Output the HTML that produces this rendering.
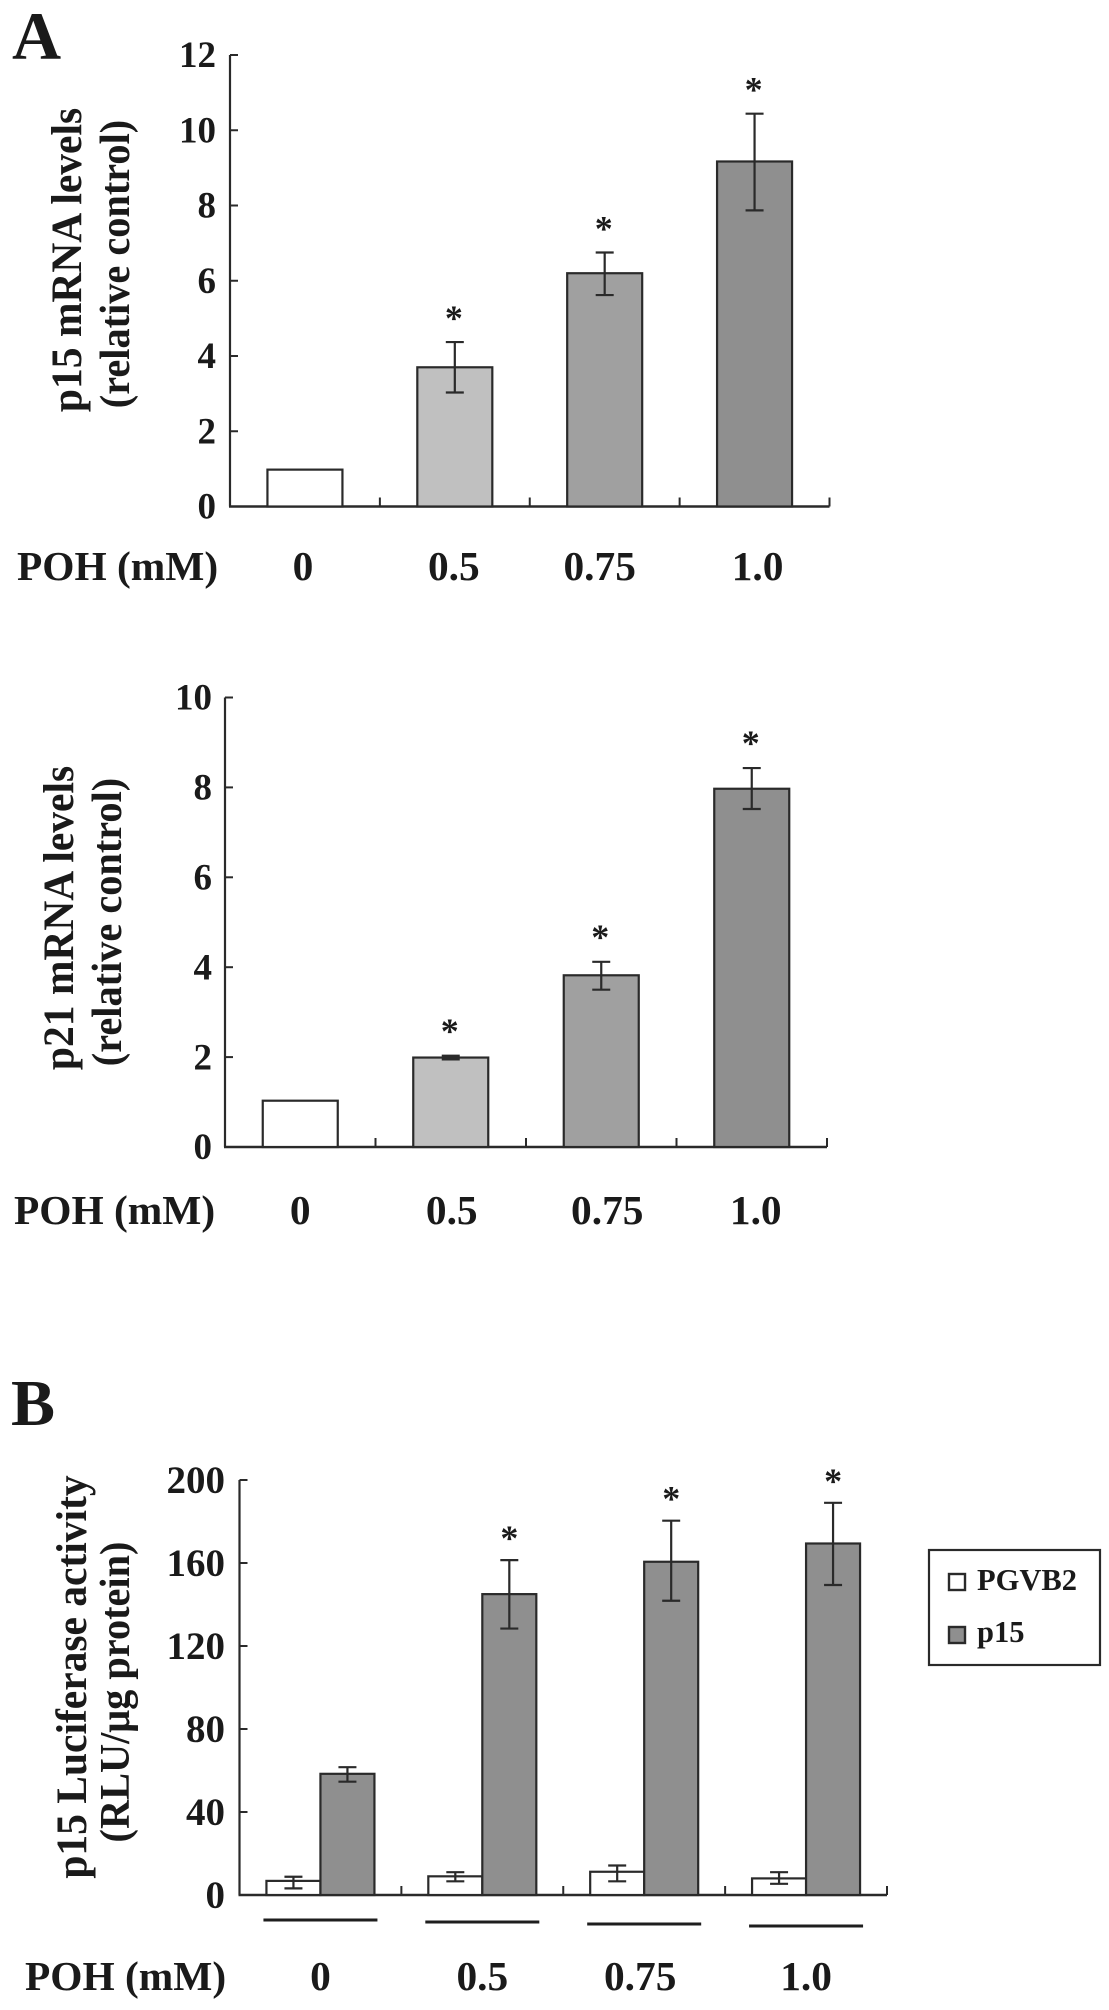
<!DOCTYPE html>
<html lang="en">
<head>
<meta charset="utf-8">
<title>POH effects on p15 and p21</title>
<style>
html,body{margin:0;padding:0;background:#fff;width:1109px;height:2010px;overflow:hidden}
svg{display:block}
text{font-family:"Liberation Serif",serif;font-weight:bold;fill:#1a1a1a}
</style>
</head>
<body>
<svg id="figure" width="1109" height="2010" viewBox="0 0 1109 2010" xmlns="http://www.w3.org/2000/svg">
  <rect x="0" y="0" width="1109" height="2010" fill="#ffffff"/>
  <text x="12" y="59" font-size="68">A</text>
  <text x="11" y="1425" font-size="66">B</text>

  <text transform="translate(81,260) rotate(-90) scale(0.965,1)" text-anchor="middle" font-size="43">p15 mRNA levels</text>
  <text transform="translate(129,264) rotate(-90) scale(0.96,1)" text-anchor="middle" font-size="42">(relative control)</text>
  <text x="17" y="580" font-size="41.4">POH (mM)</text>

  <text transform="translate(73,918) rotate(-90) scale(0.965,1)" text-anchor="middle" font-size="43">p21 mRNA levels</text>
  <text transform="translate(121,922) rotate(-90) scale(0.96,1)" text-anchor="middle" font-size="42">(relative control)</text>
  <text x="14" y="1224" font-size="41.4">POH (mM)</text>

  <text transform="translate(86,1677) rotate(-90) scale(0.965,1)" text-anchor="middle" font-size="43">p15 Luciferase activity</text>
  <text transform="translate(129,1692) rotate(-90) scale(0.96,1)" text-anchor="middle" font-size="42">(RLU/μg protein)</text>
  <text x="25" y="1990" font-size="41.4">POH (mM)</text>

  <g>
    <rect x="929" y="1550" width="171" height="115" fill="#ffffff" stroke="#2a2a2a" stroke-width="2.2"/>
    <rect x="949" y="1574" width="16" height="16" fill="#ffffff" stroke="#2a2a2a" stroke-width="2.4"/>
    <text x="977" y="1590" font-size="30.5">PGVB2</text>
    <rect x="949" y="1627" width="16" height="16" fill="#8f8f8f" stroke="#2a2a2a" stroke-width="2.4"/>
    <text x="977" y="1642" font-size="30.5">p15</text>
  </g>
</svg>
<script>
// Shared categories
const doseCategories = ['0', '0.5', '0.75', '1.0'];

// p15 mRNA chart data
const p15TickLabels = [0, 2, 4, 6, 8, 10, 12];
const p15Values = [0.98, 3.7, 6.2, 9.17];
const p15ErrorHigh = [null, 4.37, 6.75, 10.44];
const p15ErrorLow = [null, 3.03, 5.62, 7.87];
const p15Significant = [false, true, true, true];

// p21 mRNA chart data
const p21TickLabels = [0, 2, 4, 6, 8, 10];
const p21Values = [1.03, 1.99, 3.82, 7.97];
const p21ErrorHigh = [null, 2.03, 4.12, 8.43];
const p21ErrorLow = [null, 1.95, 3.5, 7.52];
const p21Significant = [false, true, true, true];

// Luciferase chart data
const lucTickLabels = [0, 40, 80, 120, 160, 200];
const lucPgvb2Values = [6.8, 9, 11.2, 8];
const lucPgvb2ErrorHigh = [8.8, 11, 14.2, 11];
const lucPgvb2ErrorLow = [3.2, 6.6, 6.6, 5.4];
const lucP15Values = [58.4, 145, 160.6, 169.4];
const lucP15ErrorHigh = [61.6, 161.4, 180.4, 189];
const lucP15ErrorLow = [54.6, 128.4, 141.8, 149.4];
const lucP15Significant = [false, true, true, true];

const SVG_NS = 'http://www.w3.org/2000/svg';
const INK = '#2a2a2a';
const figure = document.getElementById('figure');

function make(tag, attrs) {
  const node = document.createElementNS(SVG_NS, tag);
  for (const key in attrs) node.setAttribute(key, attrs[key]);
  figure.appendChild(node);
  return node;
}

function yScale(plot, v) {
  return plot.bottom - (v / plot.yMax) * (plot.bottom - plot.top);
}

function bandCenter(plot, i, count) {
  return plot.left + (plot.right - plot.left) * (i + 0.5) / count;
}

function bandEdge(plot, i, count) {
  return plot.left + (plot.right - plot.left) * i / count;
}

function drawBar(plot, x0, width, value, fill, name) {
  const top = yScale(plot, value);
  const el = make('rect', {
    x: x0, y: top, width: width, height: plot.bottom - top,
    fill: fill, stroke: INK, 'stroke-width': 2.2
  });
  
  
}

function drawError(plot, cx, hi, lo, name) {
  if (hi === null || lo === null) return;
  const yHi = yScale(plot, hi);
  const yLo = yScale(plot, lo);
  const capHalf = 9;
  const el = make('path', {
    d: 'M' + cx + ' ' + yHi + 'V' + yLo +
       'M' + (cx - capHalf) + ' ' + yHi + 'H' + (cx + capHalf) +
       'M' + (cx - capHalf) + ' ' + yLo + 'H' + (cx + capHalf),
    fill: 'none', stroke: INK, 'stroke-width': 2.2
  });
  
  
}

function drawAsterisk(plot, cx, hi, name) {
  const el = make('text', {
    x: cx, y: yScale(plot, hi) - plot.asteriskLift, 'text-anchor': 'middle', 'font-size': 36
  });
  el.textContent = '*';
  
  
}

function drawAxes(plot, tickLabels, categories, prefix) {
  const yAxis = make('path', {
    d: 'M' + plot.left + ' ' + plot.top + 'V' + plot.bottom,
    fill: 'none', stroke: INK, 'stroke-width': 2.2
  });
  
  

  const xAxis = make('path', {
    d: 'M' + (plot.left - 1) + ' ' + plot.bottom + 'H' + plot.right,
    fill: 'none', stroke: INK, 'stroke-width': 2.4
  });
  
  

  tickLabels.forEach(function (t) {
    const y = yScale(plot, t);
    const tick = make('path', {
      d: 'M' + plot.left + ' ' + y + 'H' + (plot.left + 8),
      fill: 'none', stroke: INK, 'stroke-width': 2
    });
    
    

    const label = make('text', {
      x: plot.tickRight, y: y + plot.tickFont * 0.33,
      'text-anchor': 'end', 'font-size': plot.tickFont
    });
    label.textContent = String(t);
    
    
  });

  for (let i = 1; i <= categories.length; i++) {
    const x = bandEdge(plot, i, categories.length);
    const tick = make('path', {
      d: 'M' + x + ' ' + plot.bottom + 'V' + (plot.bottom - 9),
      fill: 'none', stroke: INK, 'stroke-width': 2
    });
    
    
  }

  categories.forEach(function (c, i) {
    const label = make('text', {
      x: bandCenter(plot, i, categories.length) + plot.labelNudge[i],
      y: plot.labelBaseline, 'text-anchor': 'middle', 'font-size': 41.4
    });
    label.textContent = c;
    
    
  });
}

function singleSeriesChart(plot, ticks, values, hi, lo, sig, fills, prefix) {
  drawAxes(plot, ticks, doseCategories, prefix);
  const width = 75;
  values.forEach(function (v, i) {
    const cx = bandCenter(plot, i, values.length);
    drawBar(plot, cx - width / 2, width, v, fills[i], prefix + '-bar');
    drawError(plot, cx, hi[i], lo[i], prefix + '-error-bar');
    if (sig[i]) drawAsterisk(plot, cx - 1, hi[i], prefix + '-significance-asterisk');
  });
}

const barFills = ['#ffffff', '#c0c0c0', '#a0a0a0', '#8f8f8f'];

singleSeriesChart(
  { left: 230, right: 829.5, top: 55, bottom: 506.5, yMax: 12, tickRight: 216, tickFont: 37, labelBaseline: 580, labelNudge: [-2, -1, -5, 3], asteriskLift: 12 },
  p15TickLabels, p15Values, p15ErrorHigh, p15ErrorLow, p15Significant, barFills, 'p15-mrna'
);

singleSeriesChart(
  { left: 225, right: 827, top: 697.5, bottom: 1147, yMax: 10, tickRight: 212, tickFont: 37, labelBaseline: 1224, labelNudge: [0, 1, 6, 4], asteriskLift: 13 },
  p21TickLabels, p21Values, p21ErrorHigh, p21ErrorLow, p21Significant, barFills, 'p21-mrna'
);

const lucPlot = { left: 239.5, right: 887, top: 1480, bottom: 1895, yMax: 200, tickRight: 225, tickFont: 39, labelBaseline: 1990, labelNudge: [0, 0, -4, 0], asteriskLift: 10 };
drawAxes(lucPlot, lucTickLabels, doseCategories, 'luciferase');

lucP15Values.forEach(function (v, i) {
  const cx = bandCenter(lucPlot, i, lucP15Values.length);
  const width = 54;
  drawBar(lucPlot, cx - width, width, lucPgvb2Values[i], '#ffffff', 'luciferase-bar-pgvb2');
  drawBar(lucPlot, cx, width, v, '#8f8f8f', 'luciferase-bar-p15');
  drawError(lucPlot, cx - width / 2, lucPgvb2ErrorHigh[i], lucPgvb2ErrorLow[i], 'luciferase-error-bar-pgvb2');
  drawError(lucPlot, cx + width / 2, lucP15ErrorHigh[i], lucP15ErrorLow[i], 'luciferase-error-bar-p15');
  if (lucP15Significant[i]) drawAsterisk(lucPlot, cx + width / 2, lucP15ErrorHigh[i], 'luciferase-significance-asterisk');

  const rule = make('rect', {
    x: cx - 57, y: lucPlot.bottom + 23.5 + i * 2, width: 114, height: 3, fill: '#1e1e1e'
  });
  
  
});
</script>
</body>
</html>
